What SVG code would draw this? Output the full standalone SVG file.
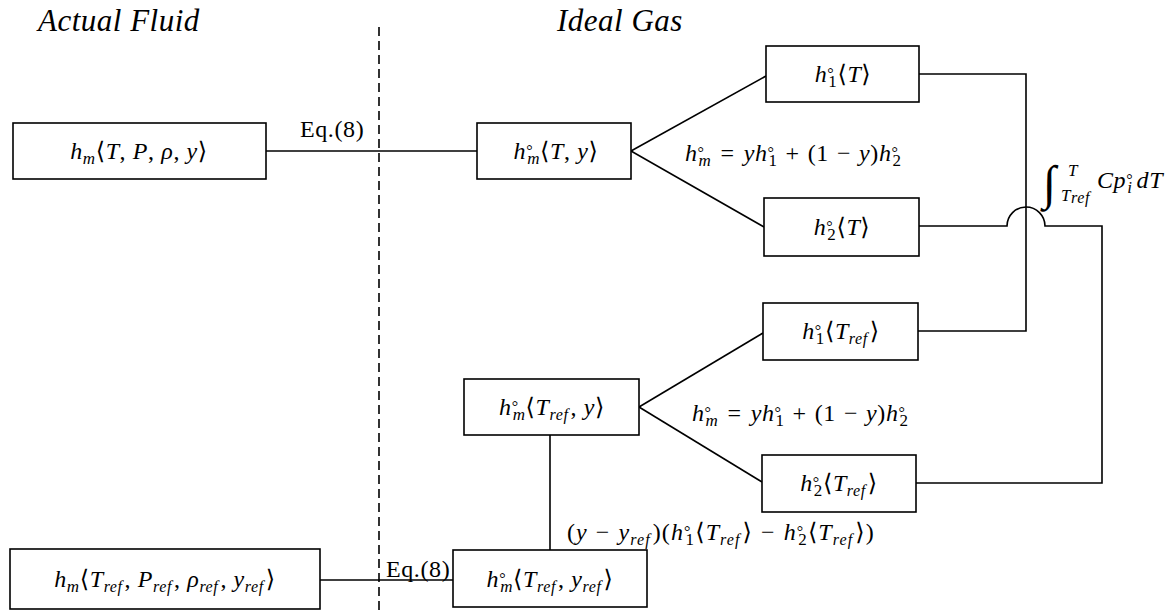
<svg xmlns="http://www.w3.org/2000/svg" width="1174" height="614" viewBox="0 0 1174 614">
<style>
.t{font-family:"Liberation Serif","DejaVu Serif",serif;font-size:24px;fill:#000;letter-spacing:0.6px}
.i{font-style:italic}
.s{font-size:17px}
.d{font-size:16px}
.r{font-size:16px;font-style:italic}
.title{font-family:"Liberation Serif","DejaVu Serif",serif;font-size:31px;font-style:italic;fill:#000;letter-spacing:0.5px}
.box{fill:#fff;stroke:#000;stroke-width:1.6}
.ln{fill:none;stroke:#000;stroke-width:1.6}
</style>
<rect width="1174" height="614" fill="#fff"/>
<text class="title" x="38" y="31">Actual Fluid</text>
<text class="title" x="557" y="31">Ideal Gas</text>
<g id="connectors">
<line class="ln" x1="379" y1="27" x2="379" y2="614" stroke-dasharray="9,5" stroke-width="1.4"/>
<path class="ln" d="M266,151 H477"/>
<path class="ln" d="M631,151 L766,76"/>
<path class="ln" d="M631,151 L764,227"/>
<path class="ln" d="M919,74 H1026 V331 H918"/>
<path class="ln" d="M919,226 H1007 A19,19 0 0 1 1045,226 H1102 V483 H916"/>
<path class="ln" d="M639,407 L763,333"/>
<path class="ln" d="M639,407 L762,482"/>
<path class="ln" d="M550,435 V550"/>
<path class="ln" d="M320,580 H453"/>
<text class="t" x="300" y="137">Eq.(8)</text>
<text class="t" x="386" y="577">Eq.(8)</text>
<text class="t" x="685" y="161"><tspan class="i">h</tspan><tspan class="d" dy="-3">°</tspan><tspan class="i s" dx="-6" dy="8">m</tspan><tspan dx="9" dy="-5">=</tspan><tspan class="i" dx="9">yh</tspan><tspan class="d" dy="-3">°</tspan><tspan class="s" dx="-6" dy="8">1</tspan><tspan dx="8" dy="-5">+</tspan><tspan dx="8">(1</tspan><tspan dx="8">−</tspan><tspan class="i" dx="8">y</tspan>)<tspan class="i">h</tspan><tspan class="d" dy="-3">°</tspan><tspan class="s" dx="-6" dy="8">2</tspan></text>
<text class="t" x="692" y="421"><tspan class="i">h</tspan><tspan class="d" dy="-3">°</tspan><tspan class="i s" dx="-6" dy="8">m</tspan><tspan dx="9" dy="-5">=</tspan><tspan class="i" dx="9">yh</tspan><tspan class="d" dy="-3">°</tspan><tspan class="s" dx="-6" dy="8">1</tspan><tspan dx="8" dy="-5">+</tspan><tspan dx="8">(1</tspan><tspan dx="8">−</tspan><tspan class="i" dx="8">y</tspan>)<tspan class="i">h</tspan><tspan class="d" dy="-3">°</tspan><tspan class="s" dx="-6" dy="8">2</tspan></text>
<text class="t" x="1043" y="199" style="font-size:48px">∫</text>
<text class="t i s" x="1068" y="176">T</text>
<text class="t" x="1061" y="201"><tspan class="i s">T</tspan><tspan class="r" dy="2">ref</tspan></text>
<text class="t" x="1097" y="188"><tspan class="i">Cp</tspan><tspan class="d" dy="-3">°</tspan><tspan class="i s" dx="-6" dy="8">i</tspan><tspan class="i" dx="4" dy="-5">dT</tspan></text>
<text class="t" x="567" y="540" style="letter-spacing:1.1px">(<tspan class="i">y</tspan><tspan dx="8">−</tspan><tspan class="i" dx="8">y</tspan><tspan class="r" dy="5">ref</tspan><tspan dx="2" dy="-5">)(</tspan><tspan class="i">h</tspan><tspan class="d" dy="-3">°</tspan><tspan class="s" dx="-6" dy="8">1</tspan><tspan dy="-5">⟨</tspan><tspan class="i">T</tspan><tspan class="r" dy="5">ref</tspan><tspan dx="2" dy="-5">⟩</tspan><tspan dx="8">−</tspan><tspan class="i" dx="8">h</tspan><tspan class="d" dy="-3">°</tspan><tspan class="s" dx="-6" dy="8">2</tspan><tspan dy="-5">⟨</tspan><tspan class="i">T</tspan><tspan class="r" dy="5">ref</tspan><tspan dx="2" dy="-5">⟩)</tspan></text>
</g>
<g id="n1">
<rect class="box" x="13" y="123" width="253" height="56"/>
<text class="t" x="139" y="159" text-anchor="middle"><tspan class="i">h</tspan><tspan class="i s" dy="5">m</tspan><tspan dy="-5">⟨</tspan><tspan class="i">T</tspan>, <tspan class="i">P</tspan>, <tspan class="i">ρ</tspan>, <tspan class="i">y</tspan>⟩</text>
</g>
<g id="n2">
<rect class="box" x="477" y="123" width="154" height="56"/>
<text class="t" x="556" y="159" text-anchor="middle"><tspan class="i">h</tspan><tspan class="d" dy="-3">°</tspan><tspan class="i s" dx="-6" dy="8">m</tspan><tspan dy="-5">⟨</tspan><tspan class="i">T</tspan>, <tspan class="i">y</tspan>⟩</text>
</g>
<g id="n3">
<rect class="box" x="766" y="46" width="153" height="56"/>
<text class="t" x="843" y="82" text-anchor="middle"><tspan class="i">h</tspan><tspan class="d" dy="-3">°</tspan><tspan class="s" dx="-6" dy="8">1</tspan><tspan dy="-5">⟨</tspan><tspan class="i">T</tspan>⟩</text>
</g>
<g id="n4">
<rect class="box" x="764" y="198" width="155" height="58"/>
<text class="t" x="842" y="235" text-anchor="middle"><tspan class="i">h</tspan><tspan class="d" dy="-3">°</tspan><tspan class="s" dx="-6" dy="8">2</tspan><tspan dy="-5">⟨</tspan><tspan class="i">T</tspan>⟩</text>
</g>
<g id="n5">
<rect class="box" x="763" y="303" width="155" height="57"/>
<text class="t" x="841" y="339" text-anchor="middle"><tspan class="i">h</tspan><tspan class="d" dy="-3">°</tspan><tspan class="s" dx="-6" dy="8">1</tspan><tspan dy="-5">⟨</tspan><tspan class="i">T</tspan><tspan class="r" dy="5">ref</tspan><tspan dx="2" dy="-5">⟩</tspan></text>
</g>
<g id="n6">
<rect class="box" x="464" y="379" width="175" height="56"/>
<text class="t" x="552" y="415" text-anchor="middle"><tspan class="i">h</tspan><tspan class="d" dy="-3">°</tspan><tspan class="i s" dx="-6" dy="8">m</tspan><tspan dy="-5">⟨</tspan><tspan class="i">T</tspan><tspan class="r" dy="5">ref</tspan><tspan dx="2" dy="-5">, </tspan><tspan class="i">y</tspan>⟩</text>
</g>
<g id="n7">
<rect class="box" x="762" y="455" width="154" height="57"/>
<text class="t" x="839" y="491" text-anchor="middle"><tspan class="i">h</tspan><tspan class="d" dy="-3">°</tspan><tspan class="s" dx="-6" dy="8">2</tspan><tspan dy="-5">⟨</tspan><tspan class="i">T</tspan><tspan class="r" dy="5">ref</tspan><tspan dx="2" dy="-5">⟩</tspan></text>
</g>
<g id="n8">
<rect class="box" x="10" y="549" width="310" height="60"/>
<text class="t" x="165" y="587" text-anchor="middle"><tspan class="i">h</tspan><tspan class="i s" dy="5">m</tspan><tspan dy="-5">⟨</tspan><tspan class="i">T</tspan><tspan class="r" dy="5">ref</tspan><tspan dx="2" dy="-5">, </tspan><tspan class="i">P</tspan><tspan class="r" dy="5">ref</tspan><tspan dx="2" dy="-5">, </tspan><tspan class="i">ρ</tspan><tspan class="r" dy="5">ref</tspan><tspan dx="2" dy="-5">, </tspan><tspan class="i">y</tspan><tspan class="r" dy="5">ref</tspan><tspan dx="2" dy="-5">⟩</tspan></text>
</g>
<g id="n9">
<rect class="box" x="453" y="550" width="194" height="57"/>
<text class="t" x="550" y="587" text-anchor="middle"><tspan class="i">h</tspan><tspan class="d" dy="-3">°</tspan><tspan class="i s" dx="-6" dy="8">m</tspan><tspan dy="-5">⟨</tspan><tspan class="i">T</tspan><tspan class="r" dy="5">ref</tspan><tspan dx="2" dy="-5">, </tspan><tspan class="i">y</tspan><tspan class="r" dy="5">ref</tspan><tspan dx="2" dy="-5">⟩</tspan></text>
</g>
</svg>
